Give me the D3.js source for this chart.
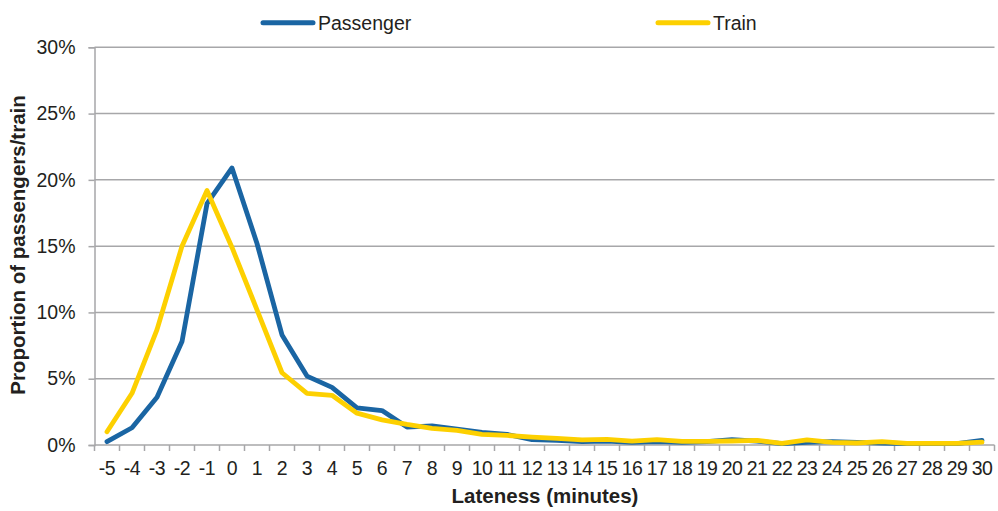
<!DOCTYPE html>
<html><head><meta charset="utf-8">
<script src="https://cdn.jsdelivr.net/npm/d3@7"></script>
<style>
html,body{margin:0;padding:0;background:#fff;}
svg text{font-family:"Liberation Sans",Arial,Helvetica,sans-serif;fill:#231f20;}
</style></head>
<body><svg id="c" width="998" height="511"></svg>
<script>
const categories = d3.range(-5, 31).map(String);
const passenger = [0.25,1.3,3.6,7.8,18.2,20.9,15.2,8.3,5.2,4.35,2.8,2.6,1.35,1.45,1.2,0.95,0.8,0.4,0.35,0.25,0.3,0.2,0.25,0.2,0.25,0.4,0.3,0.1,0.2,0.25,0.2,0.15,0.1,0.1,0.1,0.35];
const train = [1.0,3.9,8.7,15.0,19.2,14.9,10.2,5.45,3.9,3.75,2.4,1.9,1.55,1.25,1.1,0.8,0.72,0.6,0.5,0.38,0.42,0.3,0.4,0.28,0.28,0.3,0.35,0.12,0.38,0.2,0.15,0.25,0.12,0.12,0.12,0.22];
const yTicks = [0,5,10,15,20,25,30];
const seriesNames = ["Passenger","Train"];
const colors = ["#1a65a3","#fdd000"];

const svg = d3.select("#c");
const mLeft = 94.5, mRight = 994.5, mTop = 47.3, mBottom = 445;
const x = d3.scaleBand().domain(categories).range([mLeft, mRight]);
const y = d3.scaleLinear().domain([0,30]).range([mBottom, mTop]);
const grid = "#a7a7a9";

// gridlines
svg.append("g").selectAll("line").data(yTicks.filter(d=>d>0)).join("line")
  .attr("x1", mLeft).attr("x2", mRight)
  .attr("y1", d=>y(d)).attr("y2", d=>y(d))
  .attr("stroke", grid).attr("stroke-width", 1.5);

// y axis
const ya = svg.append("g").attr("transform",`translate(${mLeft},0)`)
  .call(d3.axisLeft(y).tickValues(yTicks).tickFormat(d=>d+"%").tickSize(6).tickPadding(13));
ya.select(".domain").attr("stroke", grid).attr("stroke-width",1.5);
ya.selectAll(".tick line").attr("stroke", grid).attr("stroke-width",1.5);
ya.selectAll("text").attr("font-size","19.5px").attr("fill","#231f20");

// x axis
const xa = svg.append("g").attr("transform",`translate(0,${mBottom})`)
  .call(d3.axisBottom(x).tickSize(0).tickPadding(16));
xa.select(".domain").attr("stroke", grid).attr("stroke-width",1.5).attr("d",`M${mLeft},0H${mRight}`);
xa.selectAll(".tick line").remove();
xa.selectAll("text").attr("font-size","19.5px").attr("fill","#231f20").attr("letter-spacing","-0.5px");
// boundary ticks
svg.append("g").selectAll("line").data(d3.range(categories.length+1)).join("line")
  .attr("x1", i=>mLeft + i*x.step()).attr("x2", i=>mLeft + i*x.step())
  .attr("y1", mBottom).attr("y2", mBottom+6)
  .attr("stroke", grid).attr("stroke-width",1.5);

// lines
const line = d3.line().x((d,i)=>x(categories[i]) + x.bandwidth()/2).y(d=>y(d));
[passenger, train].forEach((s,k)=>{
  svg.append("path").datum(s).attr("d", line).attr("fill","none")
    .attr("stroke", colors[k]).attr("stroke-width",4.8)
    .attr("stroke-linejoin","round").attr("stroke-linecap","round");
});

// legend
const legX = [263, 658];
seriesNames.forEach((n,k)=>{
  svg.append("line").attr("x1",legX[k]).attr("x2",legX[k]+50).attr("y1",22.7).attr("y2",22.7)
    .attr("stroke",colors[k]).attr("stroke-width",5).attr("stroke-linecap","round");
  svg.append("text").attr("x",legX[k]+55).attr("y",22.7).attr("dy","0.35em")
    .attr("font-size","19.5px").text(n);
});

// axis titles
svg.append("text").attr("x",545).attr("y",496).attr("dy","0.35em").attr("text-anchor","middle")
  .attr("font-size","20.5px").attr("font-weight","bold").text("Lateness (minutes)");
svg.append("text").attr("transform","translate(18,245) rotate(-90)").attr("dy","0.35em")
  .attr("text-anchor","middle").attr("font-size","20.5px").attr("font-weight","bold")
  .text("Proportion of passengers/train");
</script></body></html>
